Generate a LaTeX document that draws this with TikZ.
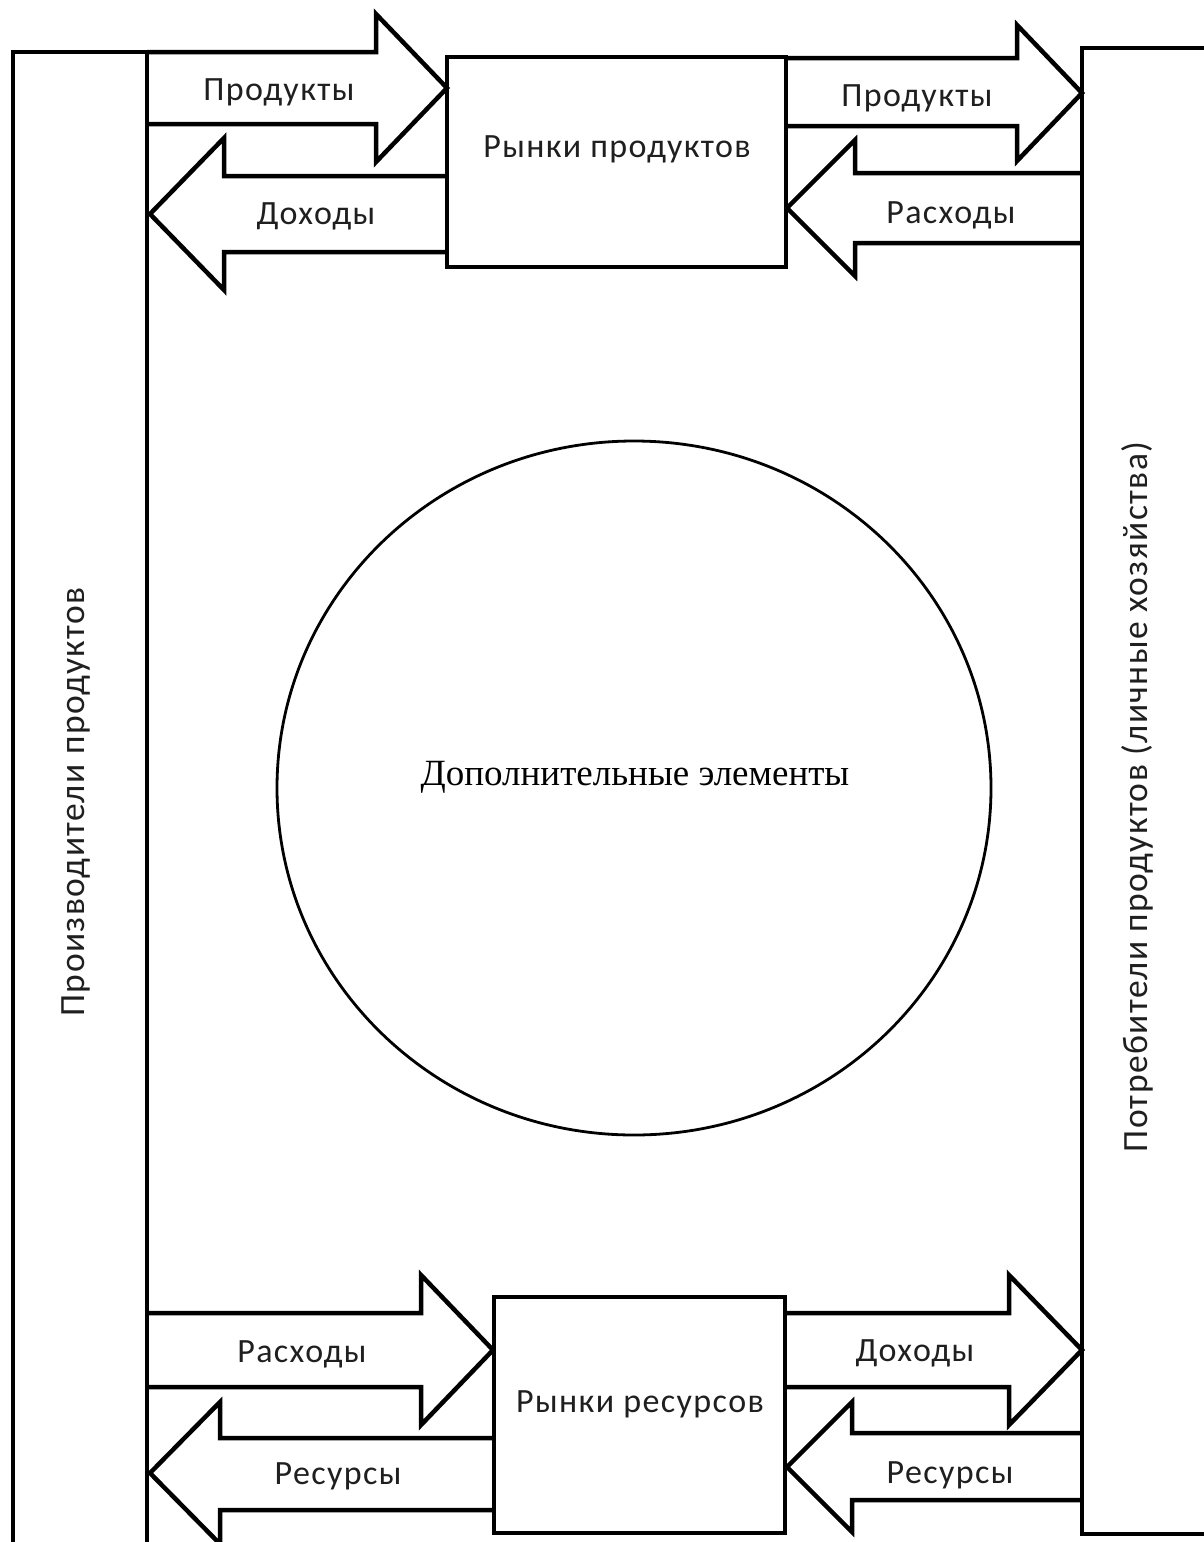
\documentclass[tikz,border=0pt]{standalone}
\usepackage{fontspec}
\setmainfont{Carlito}[LetterSpace=4]
\newfontfamily\serifrm{Liberation Serif}
\usetikzlibrary{shapes.geometric}
\begin{document}
\begin{tikzpicture}[x=1pt,y=-1pt,line join=miter,
  thick line/.style={draw,line width=4.5pt},
  barbox/.style={thick line,rectangle,inner sep=0pt,outer sep=0pt,anchor=north west},
  blockarrow/.style={thick line},
  lbl/.style={font=\fontsize{34}{40}\selectfont,anchor=base,inner sep=0pt,text=black!88},
  vlbl/.style={font=\fontsize{35.5}{42}\selectfont,anchor=base,inner sep=0pt,rotate=90,text=black!88},
  ctext/.style={font=\serifrm\fontsize{37}{44}\selectfont,anchor=base,inner sep=0pt}]
\clip (0,0) rectangle (1204,1542);
\fill[white] (0,0) rectangle (1204,1542);
% side bars
\node[barbox,minimum width=134pt,minimum height=1540pt] (prod) at (13,52) {};
\node[barbox,minimum width=160pt,minimum height=1486pt] (cons) at (1082,48) {};
% market boxes
\node[barbox,minimum width=339pt,minimum height=210pt] (pmkt) at (447,57) {};
\node[barbox,minimum width=291pt,minimum height=236pt] (rmkt) at (494,1297) {};
% circle
\node[draw,ellipse,line width=2.8pt,minimum width=714pt,minimum height=694pt,inner sep=0pt] (extra) at (634,788) {};
% block arrows, top
\draw[blockarrow] (147,52) -- (376,52) -- (376,14) -- (447,88) -- (376,162) -- (376,124) -- (147,124);
\draw[blockarrow] (447,176) -- (224,176) -- (224,138) -- (150,214) -- (224,290) -- (224,252) -- (447,252);
\draw[blockarrow] (786,58) -- (1017,58) -- (1017,25) -- (1082,93) -- (1017,161) -- (1017,126) -- (786,126);
\draw[blockarrow] (1082,173) -- (855,173) -- (855,140) -- (787,208) -- (855,276) -- (855,243) -- (1082,243);
% block arrows, bottom
\draw[blockarrow] (147,1313) -- (421,1313) -- (421,1275) -- (493,1350) -- (421,1425) -- (421,1387) -- (147,1387);
\draw[blockarrow] (494,1438) -- (220,1438) -- (220,1402) -- (150,1473) -- (220,1544) -- (220,1510) -- (494,1510);
\draw[blockarrow] (785,1313) -- (1009,1313) -- (1009,1275) -- (1082,1350) -- (1009,1425) -- (1009,1387) -- (785,1387);
\draw[blockarrow] (1082,1433) -- (852,1433) -- (852,1402) -- (787,1467) -- (852,1532) -- (852,1500) -- (1082,1500);
% labels
\node[lbl] (l1) at (279,100) {Продукты};
\node[lbl] (l2) at (316,224) {Доходы};
\node[lbl] (l3) at (917,106) {Продукты};
\node[lbl] (l4) at (951,223) {Расходы};
\node[lbl] (l5) at (302,1362) {Расходы};
\node[lbl] (l6) at (338,1484) {Ресурсы};
\node[lbl] (l7) at (915,1361) {Доходы};
\node[lbl] (l8) at (950,1483) {Ресурсы};
\node[lbl] (pmktt) at (617,157) {Рынки продуктов};
\node[lbl] (rmktt) at (640,1412) {Рынки ресурсов};
\node[vlbl] (prodt) at (84,802) {Производители продуктов};
\node[vlbl] (const) at (1147,797) {Потребители продуктов (личные хозяйства)};
\node[ctext] (extrat) at (635,785) {Дополнительные элементы};
\end{tikzpicture}
\end{document}
